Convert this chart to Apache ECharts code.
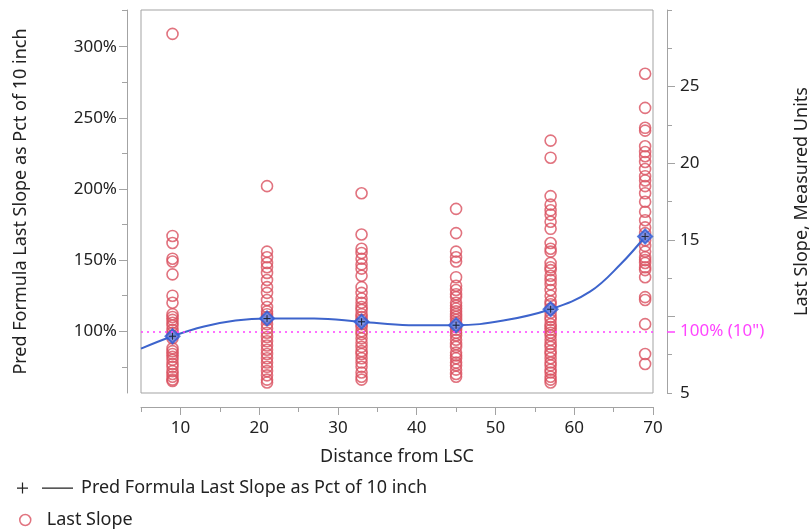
<!DOCTYPE html>
<html><head><meta charset="utf-8">
<script src="https://cdn.jsdelivr.net/npm/echarts@6/dist/echarts.min.js"></script>
<style>html,body{margin:0;padding:0;background:#fff}#c{width:810px;height:532px}</style>
</head><body><div id="c"></div>
<script>
// ---- data ----
const distances = [9, 21, 33, 45, 57, 69];
const slopesAt9  = [309,167,162,151,149,140,125,120,112,110,108,106,104,101,99,97,95,88,86,84,82,80,77,75,72,70,68,66,65];
const slopesAt21 = [202,156,152,148,145,141,136,131,127,122,117,114,112,110,108,105,102,99,96,93,90,87,84,81,78,75,72,69,66,64];
const slopesAt33 = [197,168,158,155,151,147,144,139,131,127,123,120,117,115,112,110,108,105,103,100,98,95,92,89,86,84,81,78,75,71,68,66];
const slopesAt45 = [186,169,156,152,149,138,132,129,126,124,120,118,116,114,112,110,108,106,103,101,99,97,94,91,89,85,83,81,78,76,73,70,68];
const slopesAt57 = [234,222,195,189,185,182,177,172,162,158,156,148,145,143,139,136,133,129,125,121,119,116,113,110,108,105,103,101,99,97,94,91,89,86,84,81,78,76,73,71,68,66,64];
const slopesAt69 = [281,257,243,241,230,226,223,219,214,209,206,202,197,191,184,178,173,169,164,160,156,152,150,148,145,143,138,124,122,105,84,77];
const predCurveX = [5, 9, 13, 17, 21, 27, 33, 39, 45, 51, 57, 62, 66, 69];
const predCurveY = [87.8, 96.5, 103.3, 107.5, 109, 109, 106.7, 104.3, 104.2, 107.5, 115.5, 127.8, 147.8, 166.6];
const predAtDistance = [96.5, 109, 106.7, 104.2, 115.5, 166.6];
const xTicks = [10, 20, 30, 40, 50, 60, 70];
const xMinorTicks = [5, 15, 25, 35, 45, 55, 65];
const leftTicks = [100, 150, 200, 250, 300];
const leftMinorTicks = [75, 125, 175, 225, 275, 325.8];
const rightLabels = [5, 15, 20, 25];
const rightTicks = [10, 15, 20, 25];
const rightMinorTicks = [5, 7.5, 12.5, 17.5, 22.5, 27.5, 30];
const refValue = 100;
const refLabel = '100% (10")';

const columns = [slopesAt9, slopesAt21, slopesAt33, slopesAt45, slopesAt57, slopesAt69];
const scatterData = [];
columns.forEach((col, i) => col.forEach(v => scatterData.push([distances[i], v])));
const curveData = predCurveX.map((x, i) => [x, predCurveY[i]]);
const markerData = distances.map((x, i) => [x, predAtDistance[i]]);

const FONT = 'Noto Sans';
const TXT = '#222';
const AX = '#a3a3a3';
const RED = '#d9505f';
const L_MIN = 56.6, L_MAX = 325.8;
const TICK_FS = 17, NAME_FS = 18;

function axisBase(extra) {
  return Object.assign({
    type: 'value', splitLine: {show: false},
    axisLine: {show: false, lineStyle: {color: AX, width: 1}},
  }, extra);
}

const chart = echarts.init(document.getElementById('c'));
chart.setOption({
  animation: false,
  textStyle: {fontFamily: FONT},
  grid: {left: 141, right: 157, top: 10, bottom: 139, outerBoundsMode: 'none', containLabel: false,
    show: true, borderColor: AX, borderWidth: 1, backgroundColor: '#fff'},
  xAxis: [
    axisBase({min: 5, max: 70, position: 'bottom', offset: 14,
      axisLine: {show: true, lineStyle: {color: AX}},
      axisTick: {customValues: xTicks, length: 8, lineStyle: {color: AX}},
      axisLabel: {customValues: xTicks, margin: 13, fontSize: TICK_FS, color: TXT, fontFamily: FONT},
      name: 'Distance from LSC', nameLocation: 'middle', nameGap: 41,
      nameTextStyle: {fontSize: NAME_FS, color: TXT, fontFamily: FONT}}),
    axisBase({min: 5, max: 70, position: 'bottom', offset: 14,
      axisTick: {customValues: xMinorTicks, length: 5, lineStyle: {color: AX}},
      axisLabel: {show: false}})
  ],
  yAxis: [
    axisBase({min: L_MIN, max: L_MAX, position: 'left', offset: 14,
      axisLine: {show: true, lineStyle: {color: AX}},
      axisTick: {customValues: leftTicks, length: 8, lineStyle: {color: AX}},
      axisLabel: {customValues: leftTicks, formatter: '{value}%', margin: 10, fontSize: TICK_FS, color: TXT, fontFamily: FONT},
      name: 'Pred Formula Last Slope as Pct of 10 inch', nameLocation: 'middle', nameGap: 97,
      nameTextStyle: {fontSize: NAME_FS, color: TXT, fontFamily: FONT}}),
    axisBase({min: L_MIN, max: L_MAX, position: 'left', offset: 14,
      axisTick: {customValues: leftMinorTicks, length: 5, lineStyle: {color: AX}},
      axisLabel: {show: false}}),
    axisBase({min: 5, max: 30, position: 'right', offset: 14,
      axisLine: {show: true, lineStyle: {color: AX}},
      axisTick: {customValues: rightTicks, length: 8, lineStyle: {color: AX}},
      axisLabel: {customValues: rightLabels, margin: 13, fontSize: TICK_FS, color: TXT, fontFamily: FONT},
      name: 'Last Slope, Measured Units', nameLocation: 'middle', nameGap: 126,
      nameTextStyle: {fontSize: NAME_FS, color: TXT, fontFamily: FONT}}),
    axisBase({min: 5, max: 30, position: 'right', offset: 14,
      axisTick: {customValues: rightMinorTicks, length: 5, lineStyle: {color: AX}},
      axisLabel: {show: false}}),
    axisBase({min: L_MIN, max: L_MAX, position: 'right', offset: 14,
      axisTick: {customValues: [refValue], length: 8, lineStyle: {color: '#ff44ff', width: 1.5}},
      axisLabel: {customValues: [refValue], formatter: () => refLabel, margin: 13, fontSize: TICK_FS, color: '#ff44ff', fontFamily: FONT}})
  ],
  legend: [
    {left: 17, top: 479, padding: 0, itemWidth: 56, itemHeight: 11, selectedMode: false,
      textStyle: {fontSize: NAME_FS, color: TXT, fontFamily: FONT, padding: [0, 0, 0, 3]},
      data: [{name: 'Pred Formula Last Slope as Pct of 10 inch',
        icon: 'path://M0,5h11v1.2h-11z M4.9,0h1.2v11h-1.2z M25,5h31v1.2h-31z',
        itemStyle: {color: '#222', borderWidth: 0}}]},
    {left: 19, top: 511, padding: 0, itemWidth: 11, itemHeight: 11, selectedMode: false,
      textStyle: {fontSize: NAME_FS, color: TXT, fontFamily: FONT, padding: [0, 0, 0, 11]},
      data: [{name: 'Last Slope', icon: 'circle',
        itemStyle: {color: 'rgba(0,0,0,0)', borderColor: RED, borderWidth: 1.5}}]}
  ],
  series: [
    {name: 'Last Slope', type: 'scatter', xAxisIndex: 0, yAxisIndex: 0, data: scatterData,
      symbol: 'circle', symbolSize: 11,
      itemStyle: {color: 'rgba(0,0,0,0)', borderColor: RED, borderWidth: 1.6},
      markLine: {silent: true, symbol: 'none', label: {show: false},
        lineStyle: {type: [2, 4], color: '#ff40ff', width: 1.5},
        data: [{yAxis: refValue}]}, z: 2},
    {name: 'Pred Formula Last Slope as Pct of 10 inch', type: 'line', xAxisIndex: 0, yAxisIndex: 0,
      data: curveData, smooth: 0.4, showSymbol: false,
      lineStyle: {color: '#3d64cc', width: 2}, itemStyle: {color: '#3d64cc'}, z: 3},
    {name: 'predMarkers', type: 'scatter', xAxisIndex: 0, yAxisIndex: 0, data: markerData,
      symbol: 'diamond', symbolSize: 14,
      itemStyle: {color: '#5f86e8', borderColor: '#2f5bd6', borderWidth: 2}, z: 4},
    {name: 'predPlus', type: 'scatter', xAxisIndex: 0, yAxisIndex: 0, data: markerData,
      symbol: 'path://M0,3.4h8v1.2h-8z M3.4,0h1.2v8h-1.2z', symbolSize: 7,
      itemStyle: {color: '#111'}, z: 5}
  ]
});
</script></body></html>
